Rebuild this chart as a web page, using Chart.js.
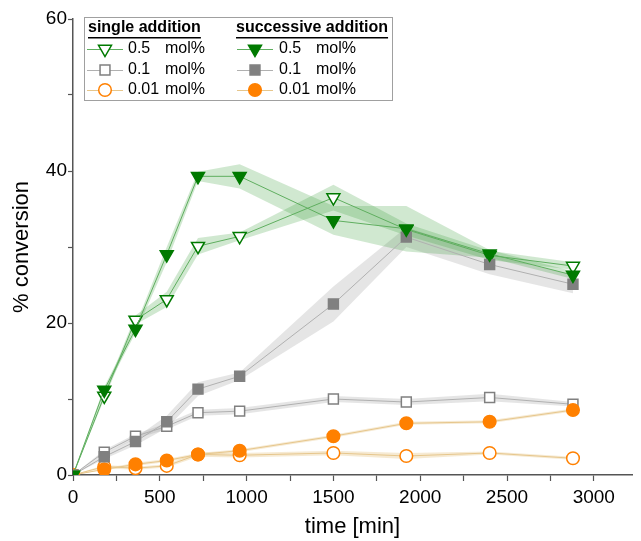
<!DOCTYPE html>
<html>
<head>
<meta charset="utf-8">
<script src="https://cdn.jsdelivr.net/npm/chart.js@4/dist/chart.umd.min.js"></script>
<style>
html,body{margin:0;padding:0;background:#fff;}
#c{display:block;}
</style>
</head>
<body>
<canvas id="c" width="641" height="541"></canvas>
<script>
// ---- data ----
const times = [0, 180, 360, 540, 720, 960, 1500, 1920, 2400, 2880];

const single05     = [0, 10.4, 20.4, 23.1, 30.1, 31.4, 36.5, 32.3, 28.9, 27.5];
const single05Err  = [0, 0.4, 0.6, 1.0, 1.1, 0.5, 1.7, 0.8, 0.6, 0.5];
const succ05       = [0, 11.2, 19.2, 29.0, 39.3, 39.3, 33.5, 32.4, 29.1, 26.3];
const succ05Err    = [0, 0.4, 0.5, 1.0, 0.6, 1.6, 1.9, 3.0, 0.5, 0.5];

const single01     = [0, 3.0, 5.1, 6.4, 8.2, 8.4, 10.0, 9.6, 10.2, 9.3];
const single01Err  = [0, 0.3, 0.3, 0.4, 0.4, 0.4, 0.4, 0.4, 0.5, 0.3];
const succ01       = [0, 2.4, 4.4, 7.0, 11.3, 13.0, 22.5, 31.3, 27.7, 25.1];
const succ01Err    = [0, 0.3, 0.5, 0.8, 0.9, 0.5, 2.3, 1.3, 1.3, 1.2];

const single001    = [0, 1.1, 0.9, 1.2, 2.7, 2.6, 2.9, 2.5, 2.9, 2.2];
const single001Err = [0, 0.2, 0.2, 0.2, 0.3, 0.3, 0.3, 0.4, 0.2, 0.2];
const succ001      = [0, 0.75, 1.4, 1.9, 2.7, 3.2, 5.1, 6.8, 7.0, 8.55];
const succ001Err   = [0, 0.1, 0.2, 0.2, 0.2, 0.2, 0.2, 0.2, 0.2, 0.2];

const xTickValues = [0, 250, 500, 750, 1000, 1250, 1500, 1750, 2000, 2250, 2500, 2750, 3000];
const xTickLabels = [0, 500, 1000, 1500, 2000, 2500, 3000];
const yTickLabels = [0, 20, 40, 60];

// ---- styles ----
const GREEN = '#007a00', GREEN_LINE = '#5fae5f', GREEN_BAND = 'rgba(40,150,40,0.22)';
const GRAY = '#808080', GRAY_LINE = '#b0b0b0', GRAY_BAND = 'rgba(150,150,150,0.25)';
const ORANGE = '#ff8000', ORANGE_LINE = '#e6c68c', ORANGE_BAND = 'rgba(225,185,110,0.3)';

const series = [
  {name:'succ05', vals:succ05, err:succ05Err, line:GREEN_LINE, band:GREEN_BAND, style:'triangle', rot:180, r:7.5, fill:GREEN, stroke:GREEN},
  {name:'single05', vals:single05, err:single05Err, line:GREEN_LINE, band:GREEN_BAND, style:'triangle', rot:180, r:7.5, fill:'#fff', stroke:GREEN},
  {name:'succ01', vals:succ01, err:succ01Err, line:GRAY_LINE, band:GRAY_BAND, style:'rect', rot:0, r:7, fill:GRAY, stroke:GRAY},
  {name:'single01', vals:single01, err:single01Err, line:GRAY_LINE, band:GRAY_BAND, style:'rect', rot:0, r:7, fill:'#fff', stroke:GRAY},
  {name:'succ001', vals:succ001, err:succ001Err, line:ORANGE_LINE, band:ORANGE_BAND, style:'circle', rot:0, r:6.3, fill:ORANGE, stroke:ORANGE},
  {name:'single001', vals:single001, err:single001Err, line:ORANGE_LINE, band:ORANGE_BAND, style:'circle', rot:0, r:6.3, fill:'#fff', stroke:ORANGE}
];

const pts = arr => times.map((t, i) => ({x: t, y: arr[i]}));

const datasets = [];
// bands
series.forEach(s => {
  const lo = s.vals.map((v, i) => v - s.err[i]);
  const hi = s.vals.map((v, i) => v + s.err[i]);
  const loIdx = datasets.length;
  datasets.push({data: pts(lo), borderWidth: 0, pointRadius: 0, fill: false, order: 20, borderColor: 'transparent'});
  datasets.push({data: pts(hi), borderWidth: 0, pointRadius: 0, fill: loIdx, backgroundColor: s.band, order: 20, borderColor: 'transparent'});
});
// lines with markers
series.forEach((s, k) => {
  datasets.push({
    label: s.name,
    data: pts(s.vals),
    borderColor: s.line,
    borderWidth: 1,
    fill: false,
    pointStyle: s.style,
    pointRotation: s.rot,
    pointRadius: s.r,
    pointBackgroundColor: s.fill,
    pointBorderColor: s.stroke,
    pointBorderWidth: 1.5,
    order: k % 2 === 0 ? 1 : 2
  });
});

// ---- legend plugin ----
function drawMarker(ctx, s, x, y) {
  ctx.save();
  ctx.fillStyle = s.fill; ctx.strokeStyle = s.stroke; ctx.lineWidth = 1.5;
  ctx.beginPath();
  if (s.style === 'triangle') {
    const r = s.r;
    for (let i = 0; i < 3; i++) {
      const a = Math.PI + i * 2 * Math.PI / 3;
      const px = x + Math.sin(a) * r, py = y - Math.cos(a) * r;
      if (i === 0) ctx.moveTo(px, py); else ctx.lineTo(px, py);
    }
    ctx.closePath();
  } else if (s.style === 'rect') {
    const h = Math.SQRT1_2 * s.r;
    ctx.rect(x - h, y - h, 2 * h, 2 * h);
  } else {
    ctx.arc(x, y, s.r, 0, Math.PI * 2);
  }
  ctx.fill(); ctx.stroke();
  ctx.restore();
}

const legendPlugin = {
  id: 'customLegend',
  afterDraw(chart) {
    const ctx = chart.ctx;
    ctx.save();
    ctx.fillStyle = '#fff';
    ctx.fillRect(84.5, 17.5, 308, 83);
    ctx.strokeStyle = '#a0a0a0'; ctx.lineWidth = 1;
    ctx.strokeRect(84.5, 17.5, 308, 83);
    ctx.fillStyle = '#000';
    ctx.textBaseline = 'middle';
    ctx.font = 'bold 16px "Liberation Sans", Arial, sans-serif';
    const headers = [{t:'single addition', x:88}, {t:'successive addition', x:236}];
    headers.forEach(h => {
      ctx.fillText(h.t, h.x, 28);
      const w = ctx.measureText(h.t).width;
      ctx.fillRect(h.x, 37, w, 1.5);
    });
    ctx.font = '16px "Liberation Sans", Arial, sans-serif';
    const cols = [
      {x1:87, x2:123, mx:105, tx:128, mtx:165, items:[series[1], series[3], series[5]]},
      {x1:237, x2:273, mx:255, tx:279, mtx:316, items:[series[0], series[2], series[4]]}
    ];
    const rowY = [49, 70, 90];
    const nums = ['0.5', '0.1', '0.01'];
    cols.forEach(c => {
      c.items.forEach((s, i) => {
        const y = rowY[i];
        ctx.strokeStyle = s.line; ctx.lineWidth = 1;
        ctx.beginPath(); ctx.moveTo(c.x1, y + 0.5); ctx.lineTo(c.x2, y + 0.5); ctx.stroke();
        drawMarker(ctx, s, c.mx, y);
        ctx.fillStyle = '#000';
        ctx.fillText(nums[i], c.tx, y);
        ctx.fillText('mol%', c.mtx, y);
      });
    });
    ctx.restore();
  }
};

const AXIS = '#555';
new Chart(document.getElementById('c'), {
  type: 'line',
  data: {datasets},
  options: {
    responsive: false,
    animation: false,
    layout: {padding: {top: 19, right: 3, left: 0, bottom: 0}},
    plugins: {legend: {display: false}, tooltip: {enabled: false}},
    scales: {
      x: {
        type: 'linear', min: 0, max: 3220,
        afterBuildTicks: s => { s.ticks = xTickValues.map(v => ({value: v})); },
        afterFit: s => { s.height = 66; },
        border: {display: true, color: AXIS, width: 1.5},
        grid: {display: true, drawOnChartArea: false, drawTicks: true, tickLength: 6, tickColor: AXIS, tickWidth: 1.2},
        ticks: {autoSkip: false, maxRotation: 0, padding: 5, color: '#000',
          font: {size: 19, family: '"Liberation Sans", Arial, sans-serif'},
          callback: v => xTickLabels.includes(v) ? String(v) : ''},
        title: {display: true, text: 'time [min]', color: '#000', padding: {top: 0, bottom: 1},
          font: {size: 22, family: '"Liberation Sans", Arial, sans-serif'}}
      },
      y: {
        type: 'linear', min: 0, max: 60,
        afterFit: s => { s.width = 73; },
        border: {display: true, color: AXIS, width: 1.5},
        grid: {display: true, drawOnChartArea: false, drawTicks: true, tickLength: 5, tickColor: AXIS, tickWidth: 1.2},
        ticks: {stepSize: 10, autoSkip: false, padding: 1, color: '#000',
          font: {size: 19, family: '"Liberation Sans", Arial, sans-serif'},
          callback: v => yTickLabels.includes(v) ? String(v) : ''},
        title: {display: true, text: '% conversion', color: '#000', padding: {top: 9, bottom: 0},
          font: {size: 22, family: '"Liberation Sans", Arial, sans-serif'}}
      }
    }
  },
  plugins: [legendPlugin]
});
</script>
</body>
</html>
